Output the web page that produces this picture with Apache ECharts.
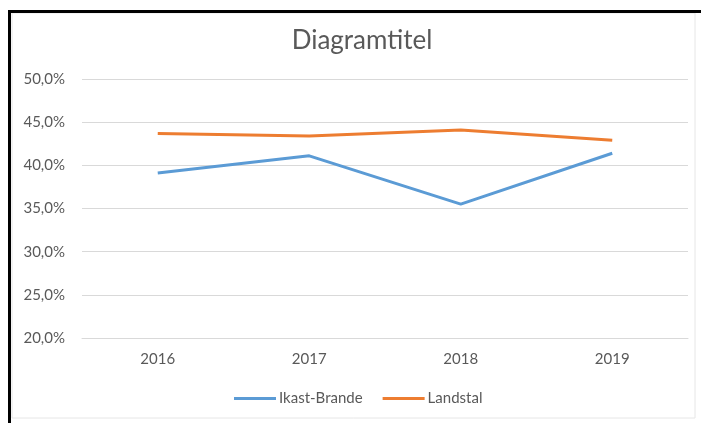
<!DOCTYPE html>
<html>
<head>
<meta charset="utf-8">
<style>
  html, body { margin: 0; padding: 0; background: #fff; }
  #chart { width: 701px; height: 423px; }
</style>
<script src="https://cdn.jsdelivr.net/npm/echarts@6/dist/echarts.min.js"></script>
</head>
<body>
<div id="chart"></div>
<script>
var years = ['2016', '2017', '2018', '2019'];
var ikastBrande = [39.1, 41.1, 35.5, 41.4];
var landstal = [43.7, 43.4, 44.1, 42.9];

var dom = document.getElementById('chart');
var myChart = echarts.init(dom);
var font = 'Lato, "Open Sans", sans-serif';

var option = {
    color: ['#5B9BD5', '#ED7D31'],
    animation: false,
    title: {
        text: 'Diagramtitel',
        left: 357,
        top: 23,
        textAlign: 'center',
        textStyle: { color: '#595959', fontSize: 26, fontWeight: 'normal', fontFamily: font }
    },
    legend: {
        bottom: 12,
        left: 229,
        itemWidth: 42,
        itemHeight: 3,
        itemGap: 20,
        icon: 'rect',
        textStyle: { color: '#595959', fontSize: 15, fontFamily: font, padding: [0, 0, 0, -2] },
        data: ['Ikast-Brande', 'Landstal']
    },
    grid: {
        left: 82,
        right: 13,
        top: 79,
        bottom: 85
    },
    xAxis: {
        type: 'category',
        data: years,
        axisLine: { lineStyle: { color: '#D9D9D9', width: 1 } },
        axisTick: { show: false },
        axisLabel: { color: '#595959', fontSize: 15, fontFamily: font, margin: 14 }
    },
    yAxis: {
        type: 'value',
        min: 20,
        max: 50,
        interval: 5,
        axisLine: { show: false },
        axisTick: { show: false },
        splitLine: { lineStyle: { color: '#D9D9D9', width: 1 } },
        axisLabel: {
            color: '#595959',
            fontSize: 15,
            fontFamily: font,
            margin: 17,
            formatter: function (v) { return v.toFixed(1).replace('.', ',') + '%'; }
        }
    },
    graphic: [
        { type: 'rect', shape: { x: 12, y: 13, width: 683, height: 405 }, style: { fill: 'none', stroke: '#E6E6E6', lineWidth: 1 }, silent: true },
        { type: 'rect', shape: { x: 8, y: 10, width: 3, height: 413 }, style: { fill: '#000' }, silent: true },
        { type: 'rect', shape: { x: 8, y: 10, width: 693, height: 3 }, style: { fill: '#000' }, silent: true }
    ],
    series: [
        {
            name: 'Ikast-Brande',
            type: 'line',
            data: ikastBrande,
            showSymbol: false,
            lineStyle: { width: 3 }
        },
        {
            name: 'Landstal',
            type: 'line',
            data: landstal,
            showSymbol: false,
            lineStyle: { width: 3 }
        }
    ]
};

if (option && typeof option === 'object') {
    myChart.setOption(option, true);
}
</script>
</body>
</html>
